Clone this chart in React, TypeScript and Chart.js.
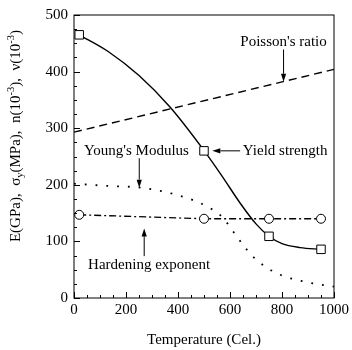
import React, { useEffect, useRef } from "react";
import { Chart, registerables } from "chart.js";

Chart.register(...registerables);

// ---- data ----
const xMajorTicks = [0, 200, 400, 600, 800, 1000];
const yMajorTicks = [0, 100, 200, 300, 400, 500];
const xMinorStep = 50;
const yMinorStep = 25;

const yieldMarkT = [20, 500, 750, 950];
const yieldMarkV = [465, 260, 109, 86];
const yieldCurveT = [20, 130, 250, 370, 501, 570, 640, 700, 750, 800, 870, 950];
const yieldCurveV = [465, 436, 393, 337, 260, 215, 167, 131, 109, 96, 89, 86];

const poissonT = [0, 1000];
const poissonV = [293, 404];

const youngT = [0, 130, 254, 380, 507, 570, 621, 660, 700, 783, 885, 1000];
const youngV = [202, 198, 195, 184, 163, 143, 112, 88, 68, 43, 29, 20];

const hardT = [20, 500, 750, 950];
const hardV = [147, 140, 140, 140];

const noteTexts = ["Poisson's ratio", "Yield strength", "Young's Modulus", "Hardening exponent"];
const noteX = [806, 812, 240, 289];
const noteY = [453, 260, 260, 58];

const arrowFromX = [806, 639, 251, 270];
const arrowFromY = [439, 260, 247, 74];
const arrowToX = [806, 532, 251, 270];
const arrowToY = [382, 260, 195, 123];

const xTitle = "Temperature (Cel.)";
const yTitleParts: { t: string; k: "n" | "sub" | "sup" }[] = [
  { t: "E(GPa),  σ", k: "n" },
  { t: "y", k: "sub" },
  { t: "(MPa),  n(10", k: "n" },
  { t: "-3", k: "sup" },
  { t: "),  ν(10", k: "n" },
  { t: "-3", k: "sup" },
  { t: ")", k: "n" },
];

const FONT = `"Liberation Serif", "Times New Roman", Tinos, "DejaVu Serif", serif`;

const pts = (xs: number[], ys: number[]) => xs.map((v, i) => ({ x: v, y: ys[i] }));

const decoPlugin = {
  id: "deco",
  afterDatasetsDraw(chart: any) {
    const { ctx, chartArea: a } = chart;
    const xs = chart.scales.x;
    const ys = chart.scales.y;
    ctx.save();
    ctx.strokeStyle = "#000";
    ctx.fillStyle = "#000";
    ctx.lineWidth = 1;
    ctx.setLineDash([]);
    ctx.strokeRect(a.left, a.top, a.right - a.left, a.bottom - a.top);

    // inward ticks
    ctx.beginPath();
    const xMax = xMajorTicks[xMajorTicks.length - 1];
    for (let v = xMajorTicks[0]; v <= xMax; v += xMinorStep) {
      const px = Math.round(xs.getPixelForValue(v)) + 0.5;
      const len = xMajorTicks.includes(v) ? 6 : 3;
      ctx.moveTo(px, a.bottom);
      ctx.lineTo(px, a.bottom - len);
    }
    const yMax = yMajorTicks[yMajorTicks.length - 1];
    for (let v = yMajorTicks[0]; v <= yMax; v += yMinorStep) {
      const py = Math.round(ys.getPixelForValue(v)) + 0.5;
      const len = yMajorTicks.includes(v) ? 6 : 3;
      ctx.moveTo(a.left, py);
      ctx.lineTo(a.left + len, py);
    }
    ctx.stroke();

    // annotations
    ctx.font = `15px ${FONT}`;
    ctx.textAlign = "center";
    ctx.textBaseline = "middle";
    noteTexts.forEach((t, i) => {
      ctx.fillText(t, xs.getPixelForValue(noteX[i]), ys.getPixelForValue(noteY[i]));
    });
    arrowFromX.forEach((_, i) => {
      const x1 = xs.getPixelForValue(arrowFromX[i]);
      const y1 = ys.getPixelForValue(arrowFromY[i]);
      const x2 = xs.getPixelForValue(arrowToX[i]);
      const y2 = ys.getPixelForValue(arrowToY[i]);
      const ang = Math.atan2(y2 - y1, x2 - x1);
      const hl = 8, hw = 2.6;
      const bx = x2 - hl * Math.cos(ang);
      const by = y2 - hl * Math.sin(ang);
      ctx.beginPath();
      ctx.moveTo(x1, y1);
      ctx.lineTo(bx, by);
      ctx.stroke();
      ctx.beginPath();
      ctx.moveTo(x2, y2);
      ctx.lineTo(bx + hw * Math.sin(ang), by - hw * Math.cos(ang));
      ctx.lineTo(bx - hw * Math.sin(ang), by + hw * Math.cos(ang));
      ctx.closePath();
      ctx.fill();
    });

    // x title
    ctx.font = `15px ${FONT}`;
    ctx.fillText(xTitle, (a.left + a.right) / 2, 340);

    // y title (rotated rich text)
    const big = `15px ${FONT}`;
    const small = `10.5px ${FONT}`;
    let total = 0;
    yTitleParts.forEach((p) => {
      ctx.font = p.k === "n" ? big : small;
      total += ctx.measureText(p.t).width;
    });
    ctx.translate(15, 136);
    ctx.rotate(-Math.PI / 2);
    ctx.textAlign = "left";
    ctx.textBaseline = "alphabetic";
    let cx = -total / 2;
    const base = 5;
    yTitleParts.forEach((p) => {
      ctx.font = p.k === "n" ? big : small;
      const dy = p.k === "sub" ? 3 : p.k === "sup" ? -6 : 0;
      ctx.fillText(p.t, cx, base + dy);
      cx += ctx.measureText(p.t).width;
    });
    ctx.restore();
  },
};

export default function App() {
  const ref = useRef<HTMLCanvasElement>(null);
  useEffect(() => {
    document.body.style.margin = "0";
    let chart: Chart | null = null;
    let cancelled = false;
    const build = () => {
      if (cancelled || !ref.current) return;
      const tickFont = { family: FONT, size: 15 };
      chart = new Chart(ref.current as HTMLCanvasElement, {
        type: "line",
        data: {
          datasets: [
            {
              label: "Yield markers",
              data: pts(yieldMarkT, yieldMarkV),
              showLine: false,
              pointStyle: "rect",
              pointRadius: 6,
              pointBorderWidth: 1,
              pointBorderColor: "#000",
              pointBackgroundColor: "#fff",
              order: 0,
            },
            {
              label: "Hardening exponent",
              data: pts(hardT, hardV),
              borderColor: "#000",
              borderWidth: 1.3,
              borderDash: [7, 3, 2, 3],
              tension: 0,
              pointStyle: "circle",
              pointRadius: 4.5,
              pointBorderWidth: 1,
              pointBorderColor: "#000",
              pointBackgroundColor: "#fff",
              order: 1,
            },
            {
              label: "Yield strength",
              data: pts(yieldCurveT, yieldCurveV),
              borderColor: "#000",
              borderWidth: 1.4,
              cubicInterpolationMode: "monotone",
              pointRadius: 0,
              order: 2,
            },
            {
              label: "Poisson's ratio",
              data: pts(poissonT, poissonV),
              borderColor: "#000",
              borderWidth: 1.4,
              borderDash: [8, 5],
              pointRadius: 0,
              order: 3,
            },
            {
              label: "Young's Modulus",
              data: pts(youngT, youngV),
              borderColor: "#000",
              borderWidth: 1.8,
              borderDash: [1.8, 9],
              cubicInterpolationMode: "monotone",
              pointRadius: 0,
              order: 4,
            },
          ],
        },
        options: {
          responsive: false,
          animation: false,
          events: [],
          layout: { padding: { left: 0, top: 13, right: 14.5, bottom: 0 } },
          plugins: { legend: { display: false }, tooltip: { enabled: false } },
          scales: {
            x: {
              type: "linear",
              min: 0,
              max: 1000,
              afterBuildTicks: (s: any) => {
                s.ticks = xMajorTicks.map((v) => ({ value: v }));
              },
              ticks: {
                color: "#000",
                font: tickFont,
                padding: 3,
                maxRotation: 0,
                callback: (v: any) => String(v),
              },
              grid: { display: false, drawTicks: false },
              border: { display: false },
              afterFit: (s: any) => {
                s.height = 52;
              },
            },
            y: {
              type: "linear",
              min: 0,
              max: 500,
              afterBuildTicks: (s: any) => {
                s.ticks = yMajorTicks.map((v) => ({ value: v }));
              },
              ticks: {
                color: "#000",
                font: tickFont,
                padding: 6,
                callback: (v: any) => String(v),
              },
              grid: { display: false, drawTicks: false },
              border: { display: false },
              afterFit: (s: any) => {
                s.width = 74;
              },
            },
          },
        },
        plugins: [decoPlugin],
      } as any);
    };
    const fontsApi = (document as any).fonts;
    if (fontsApi && fontsApi.load) {
      Promise.all([
        fontsApi.load(`15px ${FONT}`, "Temperature 0123 σν"),
        fontsApi.load(`10.5px ${FONT}`, "y-3"),
      ])
        .catch(() => null)
        .then(build);
    } else {
      build();
    }
    return () => {
      cancelled = true;
      if (chart) chart.destroy();
    };
  }, []);
  return (
    <div style={{ position: "absolute", left: 0, top: 0 }}>
      <canvas ref={ref} width={352} height={350} />
    </div>
  );
}
